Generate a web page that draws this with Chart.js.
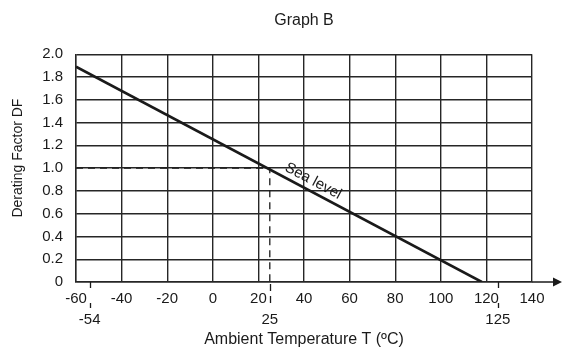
<!DOCTYPE html>
<html>
<head>
<meta charset="utf-8">
<script src="https://cdn.jsdelivr.net/npm/chart.js@4.4.1/dist/chart.umd.min.js"></script>
<style>
  html, body { margin: 0; padding: 0; background: #fff; }
  #wrap { width: 563px; height: 352px; }
</style>
</head>
<body>
<div id="wrap"><canvas id="graphB"></canvas></div>
<script>
// --- data ---
const seaLevelTemps = [-60, 118];       // °C
const seaLevelDF = [1.89, 0];           // derating factor
const guideTemps = [-60, 25, 25];       // dashed guide to 25 °C / DF 1.0
const guideDF = [1.0, 1.0, 0];
const extraTickValues = [-54, 25, 125]; // second row of x labels

const ink = '#1a1a1a';
const gridInk = '#262626';
const fontFamily = '"Liberation Sans", Arial, Helvetica, sans-serif';

Chart.defaults.font.family = fontFamily;
Chart.defaults.color = ink;

// extra drawing: second-row labels, small ticks, axis arrow, "Sea level", y title
const graphExtras = {
    id: 'graphExtras',
    afterDatasetsDraw(chart) {
        const { ctx, chartArea, scales: { x, y } } = chart;
        const axisY = chartArea.bottom;
        ctx.save();

        // x axis arrow
        ctx.strokeStyle = ink;
        ctx.fillStyle = ink;
        ctx.lineWidth = 1.5;
        ctx.beginPath();
        ctx.moveTo(chartArea.right, axisY);
        ctx.lineTo(chart.width - 6, axisY);
        ctx.stroke();
        ctx.beginPath();
        ctx.moveTo(chart.width - 1, axisY);
        ctx.lineTo(chart.width - 10, axisY - 4.5);
        ctx.lineTo(chart.width - 10, axisY + 4.5);
        ctx.closePath();
        ctx.fill();

        // short tick marks + second-row labels
        ctx.font = '15px ' + fontFamily;
        ctx.textAlign = 'center';
        ctx.textBaseline = 'middle';
        extraTickValues.forEach(v => {
            const px = Math.round(x.getPixelForValue(v)) + 0.5;
            ctx.lineWidth = 1.3;
            if (v === guideTemps[1]) {
                ctx.setLineDash([7, 5]);
                ctx.beginPath();
                ctx.moveTo(px, axisY + 2);
                ctx.lineTo(px, axisY + 26);
                ctx.stroke();
                ctx.setLineDash([]);
            } else {
                ctx.beginPath();
                ctx.moveTo(px, axisY);
                ctx.lineTo(px, axisY + 6);
                ctx.moveTo(px, axisY + 21);
                ctx.lineTo(px, axisY + 26);
                ctx.stroke();
            }
            ctx.fillText(String(v), x.getPixelForValue(v), axisY + 37.5);
        });

        // "Sea level" along the line
        const x0 = x.getPixelForValue(seaLevelTemps[0]);
        const y0 = y.getPixelForValue(seaLevelDF[0]);
        const x1 = x.getPixelForValue(seaLevelTemps[1]);
        const y1 = y.getPixelForValue(seaLevelDF[1]);
        const ang = Math.atan2(y1 - y0, x1 - x0);
        const t = 30;
        const px = x.getPixelForValue(t);
        const py = y0 + (px - x0) * (y1 - y0) / (x1 - x0);
        ctx.translate(px, py);
        ctx.rotate(ang);
        ctx.textAlign = 'left';
        ctx.textBaseline = 'alphabetic';
        ctx.fillText('Sea level', 0, -6);
        ctx.restore();

        // y axis title
        ctx.save();
        ctx.font = '14px ' + fontFamily;
        ctx.fillStyle = ink;
        ctx.translate(18, (chartArea.top + chartArea.bottom) / 2 - 10);
        ctx.rotate(-Math.PI / 2);
        ctx.textAlign = 'center';
        ctx.textBaseline = 'middle';
        ctx.fillText('Derating Factor DF', 0, 0);
        ctx.restore();
    }
};

const ctx = document.getElementById('graphB').getContext('2d');
new Chart(ctx, {
    type: 'scatter',
    data: {
        datasets: [
            {
                label: 'Sea level',
                data: seaLevelTemps.map((t, i) => ({ x: t, y: seaLevelDF[i] })),
                showLine: true,
                borderColor: ink,
                borderWidth: 2.6,
                pointRadius: 0,
                tension: 0
            },
            {
                label: 'guide',
                data: guideTemps.map((t, i) => ({ x: t, y: guideDF[i] })),
                showLine: true,
                borderColor: ink,
                borderWidth: 1.3,
                borderDash: [7, 5],
                pointRadius: 0,
                tension: 0
            }
        ]
    },
    options: {
        responsive: true,
        maintainAspectRatio: false,
        animation: false,
        layout: { padding: { left: 0, right: 31, top: 0, bottom: 0 } },
        plugins: {
            legend: { display: false },
            tooltip: { enabled: false },
            title: {
                display: true,
                text: 'Graph B',
                fullSize: false,
                color: ink,
                font: { size: 16, weight: 'normal' },
                padding: { top: 11, bottom: 24 }
            }
        },
        scales: {
            x: {
                type: 'linear',
                min: -60,
                max: 140,
                afterFit(scale) { scale.height = 70; },
                ticks: {
                    stepSize: 20,
                    padding: 8,
                    color: ink,
                    font: { size: 15 },
                    maxRotation: 0
                },
                grid: { color: gridInk, lineWidth: 1.4, drawTicks: false },
                border: { color: gridInk, width: 1.4 },
                title: {
                    display: true,
                    text: 'Ambient Temperature T (ºC)',
                    color: ink,
                    font: { size: 16 },
                    padding: { top: 0, bottom: 3 }
                }
            },
            y: {
                min: 0,
                max: 2,
                afterFit(scale) { scale.width = 76; },
                ticks: {
                    stepSize: 0.2,
                    padding: 13,
                    color: ink,
                    font: { size: 15 },
                    callback: v => v === 0 ? '0' : v.toFixed(1)
                },
                grid: { color: gridInk, lineWidth: 1.4, drawTicks: false },
                border: { color: gridInk, width: 1.4 }
            }
        }
    },
    plugins: [graphExtras]
});
</script>
</body>
</html>
